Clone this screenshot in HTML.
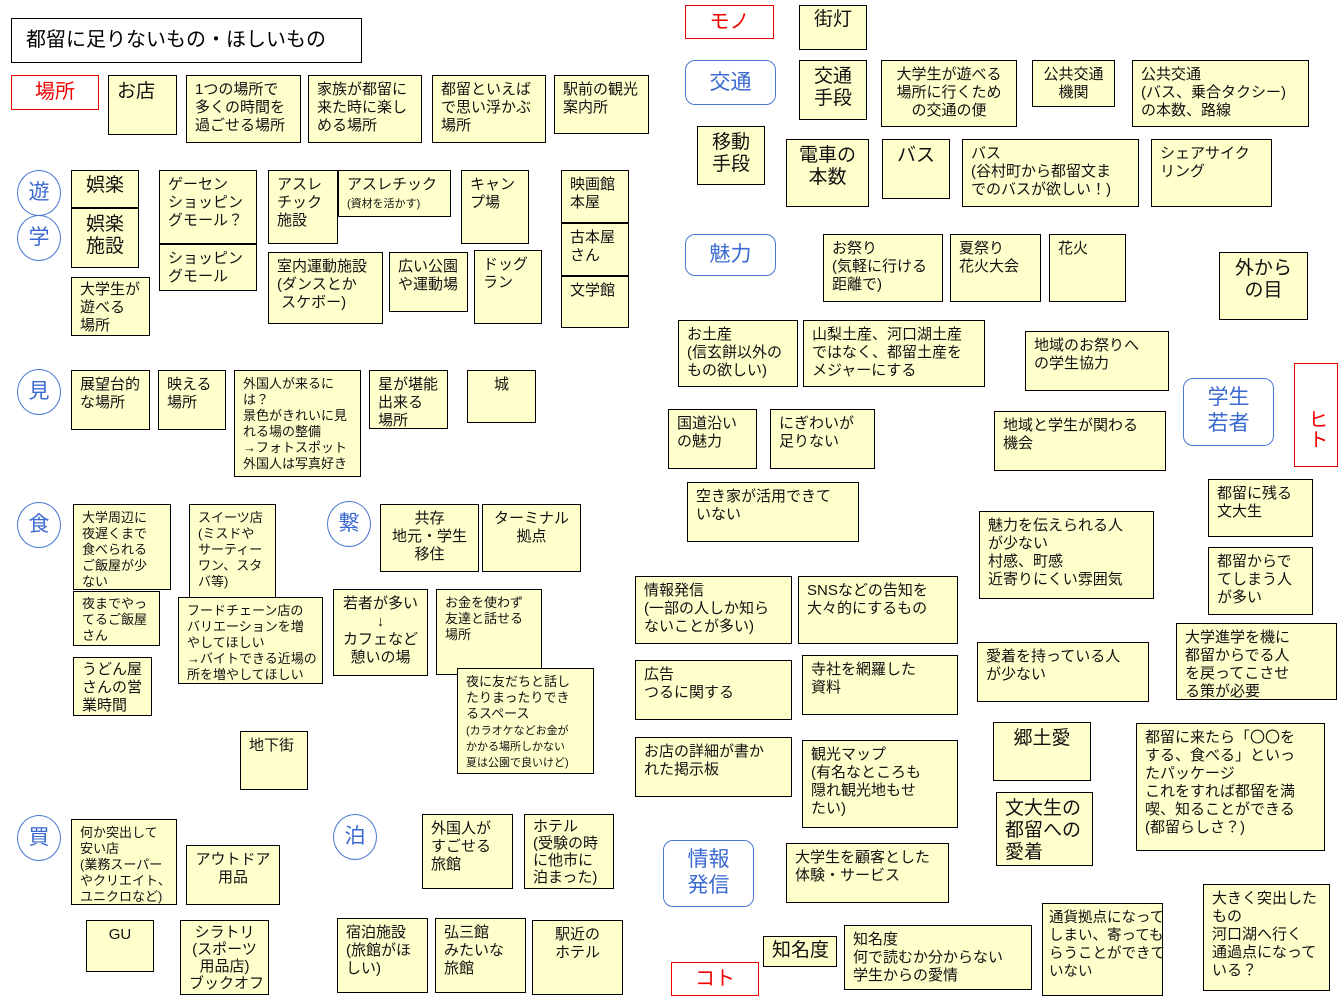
<!DOCTYPE html>
<html><head><meta charset="utf-8"><style>
body{margin:0;width:1344px;height:1008px;background:#fff;position:relative;overflow:hidden;font-family:"Liberation Sans","Noto Sans CJK JP",sans-serif;}
div{position:absolute;box-sizing:border-box;}
.n{background:#ffffcc;border:1px solid #000;font-size:15px;line-height:18px;padding:5px 8px;color:#111;white-space:nowrap;}
.s{font-size:13px;line-height:16px;}
.b{font-size:19px;line-height:22px;}
.c{text-align:center;}
.r{border:1px solid #e00;color:#e00;font-size:20px;text-align:center;background:#fff;}
.o{border:1.5px solid #4a78d0;border-radius:50%;color:#3a6ad0;font-size:21px;text-align:center;width:44px;height:46px;line-height:44px;background:#fff;}
.q{border:1.5px solid #4a78d0;border-radius:10px;color:#3a6ad0;font-size:21px;text-align:center;background:#fff;}
</style></head><body>
<div style="left:11px;top:18px;width:351px;height:45px;border:1px solid #000;font-size:20px;line-height:43px;padding-left:14px;">都留に足りないもの・ほしいもの</div>
<div class="r" style="left:11px;top:75px;width:88px;height:35px;line-height:33px;">場所</div>
<div class="n b" style="left:108px;top:75px;width:69px;height:60px;">お店</div>
<div class="n" style="left:186px;top:75px;width:115px;height:68px;">1つの場所で<br>多くの時間を<br>過ごせる場所</div>
<div class="n" style="left:308px;top:75px;width:114px;height:68px;">家族が都留に<br>来た時に楽し<br>める場所</div>
<div class="n" style="left:432px;top:75px;width:114px;height:68px;">都留といえば<br>で思い浮かぶ<br>場所</div>
<div class="n" style="left:554px;top:75px;width:95px;height:59px;">駅前の観光<br>案内所</div>

<div class="o" style="left:17px;top:170px;">遊</div>
<div class="o" style="left:17px;top:215px;">学</div>
<div class="o" style="left:17px;top:369px;">見</div>
<div class="o" style="left:17px;top:502px;">食</div>
<div class="o" style="left:327px;top:501px;">繋</div>
<div class="o" style="left:17px;top:815px;">買</div>
<div class="o" style="left:333px;top:814px;">泊</div>

<div class="n b c" style="left:71px;top:170px;width:68px;height:38px;padding-top:4px;">娯楽</div>
<div class="n b c" style="left:71px;top:208px;width:68px;height:60px;">娯楽<br>施設</div>
<div class="n" style="left:71px;top:277px;width:79px;height:59px;padding-top:3px;">大学生が<br>遊べる<br>場所</div>
<div class="n" style="left:159px;top:170px;width:98px;height:74px;">ゲーセン<br>ショッピン<br>グモール？</div>
<div class="n" style="left:159px;top:244px;width:98px;height:47px;">ショッピン<br>グモール</div>
<div class="n" style="left:268px;top:170px;width:70px;height:74px;">アスレ<br>チック<br>施設</div>
<div class="n" style="left:338px;top:170px;width:113px;height:47px;">アスレチック<br><span style="font-size:11px">(資材を活かす)</span></div>
<div class="n" style="left:461px;top:170px;width:68px;height:74px;">キャン<br>プ場</div>
<div class="n" style="left:268px;top:252px;width:115px;height:72px;">室内運動施設<br>(ダンスとか<br>&nbsp;スケボー)</div>
<div class="n" style="left:389px;top:252px;width:79px;height:60px;">広い公園<br>や運動場</div>
<div class="n" style="left:474px;top:250px;width:68px;height:74px;">ドッグ<br>ラン</div>
<div class="n" style="left:561px;top:170px;width:68px;height:53px;">映画館<br>本屋</div>
<div class="n" style="left:561px;top:223px;width:68px;height:53px;">古本屋<br>さん</div>
<div class="n" style="left:561px;top:276px;width:68px;height:52px;">文学館</div>

<div class="n" style="left:71px;top:370px;width:79px;height:60px;">展望台的<br>な場所</div>
<div class="n" style="left:158px;top:370px;width:68px;height:60px;">映える<br>場所</div>
<div class="n s" style="left:234px;top:370px;width:127px;height:107px;">外国人が来るに<br>は？<br>景色がきれいに見<br>れる場の整備<br>→フォトスポット<br>外国人は写真好き</div>
<div class="n" style="left:369px;top:370px;width:79px;height:59px;">星が堪能<br>出来る<br>場所</div>
<div class="n c" style="left:467px;top:370px;width:69px;height:53px;">城</div>

<div class="n s" style="left:73px;top:504px;width:98px;height:86px;">大学周辺に<br>夜遅くまで<br>食べられる<br>ご飯屋が少<br>ない</div>
<div class="n s" style="left:189px;top:504px;width:87px;height:106px;">スイーツ店<br>(ミスドや<br>サーティー<br>ワン、スタ<br>バ等)</div>
<div class="n s" style="left:73px;top:591px;width:87px;height:55px;padding-top:4px;">夜までやっ<br>てるご飯屋<br>さん</div>
<div class="n s" style="left:178px;top:597px;width:145px;height:87px;padding-top:5px;">フードチェーン店の<br>バリエーションを増<br>やしてほしい<br>→バイトできる近場の<br>所を増やしてほしい</div>
<div class="n" style="left:73px;top:657px;width:79px;height:59px;padding-top:3px;">うどん屋<br>さんの営<br>業時間</div>
<div class="n" style="left:240px;top:731px;width:68px;height:59px;">地下街</div>

<div class="n c" style="left:380px;top:504px;width:99px;height:68px;">共存<br>地元・学生<br>移住</div>
<div class="n c" style="left:482px;top:504px;width:99px;height:68px;">ターミナル<br>拠点</div>
<div class="n c" style="left:333px;top:589px;width:95px;height:87px;">若者が多い<br>↓<br>カフェなど<br>憩いの場</div>
<div class="n s" style="left:436px;top:589px;width:106px;height:86px;">お金を使わず<br>友達と話せる<br>場所</div>
<div class="n s" style="left:457px;top:668px;width:137px;height:106px;">夜に友だちと話し<br>たりまったりでき<br>るスペース<br><span style="font-size:11px;line-height:14px">(カラオケなどお金が<br>かかる場所しかない<br>夏は公園で良いけど)</span></div>

<div class="n s" style="left:71px;top:819px;width:106px;height:86px;">何か突出して<br>安い店<br>(業務スーパー<br>やクリエイト、<br>ユニクロなど)</div>
<div class="n c" style="left:186px;top:845px;width:94px;height:60px;">アウトドア<br>用品</div>
<div class="n c" style="left:86px;top:920px;width:68px;height:52px;">GU</div>
<div class="n c" style="left:180px;top:920px;width:89px;height:75px;line-height:17px;padding-top:3px;">シラトリ<br>(スポーツ<br>用品店)<br>ブックオフ</div>

<div class="n" style="left:422px;top:814px;width:91px;height:75px;">外国人が<br>すごせる<br>旅館</div>
<div class="n" style="left:524px;top:814px;width:90px;height:75px;line-height:17px;padding-top:3px;">ホテル<br>(受験の時<br>に他市に<br>泊まった)</div>
<div class="n" style="left:337px;top:918px;width:91px;height:75px;">宿泊施設<br>(旅館がほ<br>しい)</div>
<div class="n" style="left:435px;top:918px;width:91px;height:75px;">弘三館<br>みたいな<br>旅館</div>
<div class="n c" style="left:532px;top:920px;width:91px;height:75px;">駅近の<br>ホテル</div>

<div class="r" style="left:685px;top:5px;width:89px;height:34px;line-height:32px;">モノ</div>
<div class="n b c" style="left:799px;top:5px;width:68px;height:45px;padding-top:3px;">街灯</div>
<div class="q" style="left:685px;top:60px;width:91px;height:45px;line-height:43px;">交通</div>
<div class="n b c" style="left:799px;top:60px;width:68px;height:60px;">交通<br>手段</div>
<div class="n c" style="left:881px;top:60px;width:136px;height:67px;">大学生が遊べる<br>場所に行くため<br>の交通の便</div>
<div class="n c" style="left:1032px;top:60px;width:83px;height:47px;">公共交通<br>機関</div>
<div class="n" style="left:1132px;top:60px;width:177px;height:67px;">公共交通<br>(バス、乗合タクシー)<br>の本数、路線</div>
<div class="n b c" style="left:697px;top:126px;width:68px;height:59px;">移動<br>手段</div>
<div class="n b c" style="left:786px;top:139px;width:83px;height:68px;">電車の<br>本数</div>
<div class="n b c" style="left:882px;top:139px;width:68px;height:60px;">バス</div>
<div class="n" style="left:962px;top:139px;width:177px;height:68px;">バス<br>(谷村町から都留文ま<br>でのバスが欲しい！)</div>
<div class="n" style="left:1151px;top:139px;width:121px;height:68px;">シェアサイク<br>リング</div>

<div class="q" style="left:685px;top:234px;width:91px;height:42px;line-height:40px;">魅力</div>
<div class="n" style="left:823px;top:234px;width:120px;height:68px;">お祭り<br>(気軽に行ける<br>距離で)</div>
<div class="n" style="left:950px;top:234px;width:91px;height:68px;">夏祭り<br>花火大会</div>
<div class="n" style="left:1049px;top:234px;width:77px;height:68px;">花火</div>
<div class="n b c" style="left:1219px;top:252px;width:89px;height:68px;">外から<br>の目</div>
<div class="n" style="left:678px;top:320px;width:120px;height:67px;">お土産<br>(信玄餅以外の<br>もの欲しい)</div>
<div class="n" style="left:803px;top:320px;width:182px;height:67px;">山梨土産、河口湖土産<br>ではなく、都留土産を<br>メジャーにする</div>
<div class="n" style="left:1025px;top:331px;width:144px;height:60px;">地域のお祭りへ<br>の学生協力</div>
<div class="q" style="left:1183px;top:378px;width:91px;height:68px;line-height:26px;padding-top:6px;">学生<br>若者</div>
<div class="r" style="left:1294px;top:363px;width:44px;height:104px;writing-mode:vertical-rl;line-height:42px;padding-top:28px;">ヒト</div>
<div class="n" style="left:668px;top:409px;width:89px;height:60px;">国道沿い<br>の魅力</div>
<div class="n" style="left:770px;top:409px;width:105px;height:60px;">にぎわいが<br>足りない</div>
<div class="n" style="left:994px;top:411px;width:172px;height:60px;">地域と学生が関わる<br>機会</div>
<div class="n" style="left:687px;top:482px;width:172px;height:60px;">空き家が活用できて<br>いない</div>
<div class="n" style="left:1208px;top:479px;width:105px;height:58px;">都留に残る<br>文大生</div>
<div class="n" style="left:979px;top:511px;width:175px;height:88px;">魅力を伝えられる人<br>が少ない<br>村感、町感<br>近寄りにくい雰囲気</div>
<div class="n" style="left:1208px;top:547px;width:105px;height:68px;">都留からで<br>てしまう人<br>が多い</div>
<div class="n" style="left:635px;top:576px;width:157px;height:68px;">情報発信<br>(一部の人しか知ら<br>ないことが多い)</div>
<div class="n" style="left:798px;top:576px;width:160px;height:68px;">SNSなどの告知を<br>大々的にするもの</div>
<div class="n" style="left:1176px;top:623px;width:161px;height:77px;">大学進学を機に<br>都留からでる人<br>を戻ってこさせ<br>る策が必要</div>
<div class="n" style="left:635px;top:660px;width:157px;height:60px;">広告<br>つるに関する</div>
<div class="n" style="left:802px;top:655px;width:156px;height:60px;">寺社を網羅した<br>資料</div>
<div class="n" style="left:977px;top:642px;width:172px;height:60px;">愛着を持っている人<br>が少ない</div>
<div class="n b c" style="left:993px;top:722px;width:98px;height:59px;">郷土愛</div>
<div class="n" style="left:1136px;top:723px;width:189px;height:128px;">都留に来たら「〇〇を<br>する、食べる」といっ<br>たパッケージ<br>これをすれば都留を満<br>喫、知ることができる<br>(都留らしさ？)</div>
<div class="n" style="left:635px;top:737px;width:157px;height:60px;">お店の詳細が書か<br>れた掲示板</div>
<div class="n" style="left:802px;top:740px;width:156px;height:88px;">観光マップ<br>(有名なところも<br>隠れ観光地もせ<br>たい)</div>
<div class="n b" style="left:996px;top:792px;width:97px;height:74px;">文大生の<br>都留への<br>愛着</div>
<div class="q" style="left:663px;top:840px;width:91px;height:67px;line-height:26px;padding-top:6px;">情報<br>発信</div>
<div class="n" style="left:786px;top:843px;width:163px;height:60px;">大学生を顧客とした<br>体験・サービス</div>
<div class="n" style="left:1203px;top:884px;width:127px;height:107px;">大きく突出した<br>もの<br>河口湖へ行く<br>通過点になって<br>いる？</div>
<div class="n" style="left:1042px;top:903px;width:121px;height:93px;padding:5px 6px;font-size:14.5px;">通貨拠点になって<br>しまい、寄っても<br>らうことができて<br>いない</div>
<div class="n b c" style="left:763px;top:936px;width:74px;height:31px;padding-top:3px;">知名度</div>
<div class="n" style="left:844px;top:925px;width:188px;height:65px;">知名度<br>何で読むか分からない<br>学生からの愛情</div>
<div class="r" style="left:671px;top:962px;width:88px;height:34px;line-height:32px;">コト</div>
</body></html>
